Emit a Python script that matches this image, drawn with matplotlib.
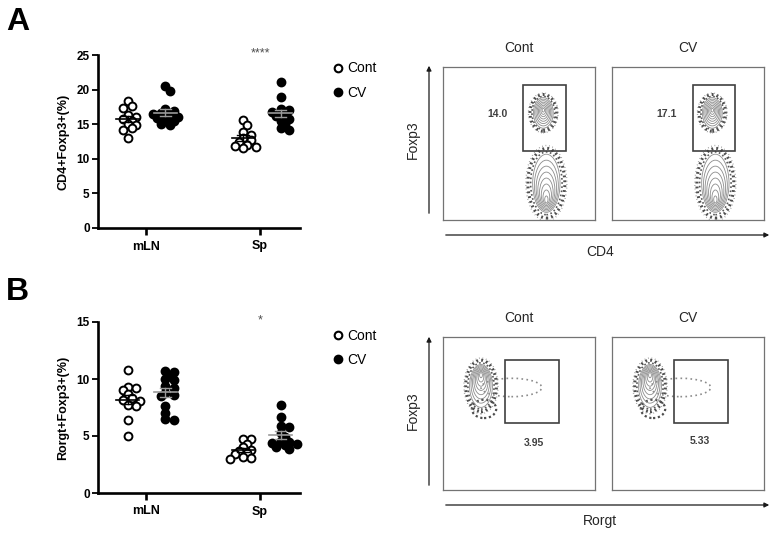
import numpy as np
import matplotlib.pyplot as plt
from matplotlib.patches import Ellipse, Rectangle
from matplotlib.lines import Line2D

plt.rcParams['font.family'] = ['Liberation Sans', 'DejaVu Sans']

# panel A : CD4+Foxp3+ (%)
a_mln_cont = [18.3, 17.6, 17.4, 16.3, 16.0, 15.8, 15.5, 15.0, 14.9, 14.4, 14.2, 13.0]
a_mln_cv = [20.5, 19.8, 17.2, 16.9, 16.6, 16.5, 16.3, 16.1, 15.9, 15.6, 15.4, 15.1, 14.9]
a_sp_cont = [15.6, 14.9, 13.9, 13.5, 13.0, 12.7, 12.4, 12.0, 11.9, 11.7, 11.5]
a_sp_cv = [21.1, 18.9, 17.2, 17.0, 16.8, 16.5, 16.2, 15.8, 15.5, 15.0, 14.5, 14.2]

# panel B : Rorgt+Foxp3+ (%)
b_mln_cont = [10.8, 9.3, 9.2, 9.0, 8.7, 8.3, 8.2, 8.1, 7.7, 7.6, 6.4, 5.0]
b_mln_cv = [10.7, 10.6, 10.3, 10.0, 9.9, 9.4, 9.2, 8.8, 8.6, 8.5, 7.6, 7.0, 6.5, 6.4]
b_sp_cont = [4.7, 4.7, 4.3, 4.0, 3.8, 3.7, 3.5, 3.4, 3.2, 3.1, 3.0]
b_sp_cv = [7.7, 6.7, 5.9, 5.8, 5.3, 4.9, 4.6, 4.5, 4.4, 4.3, 4.2, 4.0, 3.9]

tissues = ['mLN', 'Sp']
conditions = ['Cont', 'CV']
a_gate_pct = ['14.0', '17.1']
b_gate_pct = ['3.95', '5.33']

W, H = 781, 534
fig = plt.figure(figsize=(W / 100, H / 100), dpi=100)


def px_axes(x0, y0, x1, y1):
    # pixel box measured from top-left of the figure
    return fig.add_axes([x0 / W, (H - y1) / H, (x1 - x0) / W, (y1 - y0) / H])


def swarm(vals, xpx, ypx, d=7.0):
    # simple beeswarm: horizontal offsets, circles may overlap a bit
    vals = np.asarray(vals)
    order = np.argsort(vals)[::-1]
    placed = []
    offs = np.zeros(len(vals))
    steps = [0, 0.6, -0.6, 1.2, -1.2, 1.8, -1.8, 2.4, -2.4]
    for i in order:
        y = vals[i] * ypx
        for k in steps:
            x = k * d
            if all((x - px) ** 2 + (y - py) ** 2 >= (0.72 * d) ** 2 for px, py in placed):
                break
        placed.append((x, y))
        offs[i] = x / xpx
    return offs


def dot_panel(top, bottom, ymax, yticks, ylabel, groups, star):
    ax = px_axes(98, top, 300, bottom)
    ax.set_xlim(0.58, 2.35)
    ax.set_ylim(0, ymax)
    xpx = 202 / (2.35 - 0.58)
    ypx = (bottom - top) / ymax
    for xc, vals, filled in groups:
        xs = xc + swarm(vals, xpx, ypx)
        ax.scatter(xs, vals, s=32, facecolor='black' if filled else 'white',
                   edgecolor='black', linewidth=1.4, zorder=3, clip_on=False)
        m = np.mean(vals)
        se = np.std(vals, ddof=1) / np.sqrt(len(vals))
        lc = '0.6' if filled else 'black'
        ax.plot([xc - 0.1, xc + 0.1], [m, m], color=lc, lw=1.2, zorder=4)
        ax.plot([xc, xc], [m - se, m + se], color=lc, lw=1.0, zorder=4)
        for e in (m - se, m + se):
            ax.plot([xc - 0.05, xc + 0.05], [e, e], color=lc, lw=1.0, zorder=4)
    for s in ['top', 'right']:
        ax.spines[s].set_visible(False)
    for s in ['left', 'bottom']:
        ax.spines[s].set_linewidth(1.9)
    ax.set_yticks(yticks)
    ax.set_xticks([1, 2])
    ax.set_xticklabels(tissues)
    ax.tick_params(axis='y', width=1.3, length=4, labelsize=8.5, pad=2)
    ax.tick_params(axis='x', width=1.9, length=5, labelsize=9, pad=4)
    for t in ax.get_xticklabels() + ax.get_yticklabels():
        t.set_fontweight('bold')
    ax.set_ylabel(ylabel, fontsize=9, fontweight='bold', labelpad=5)
    ax.text(2.0, ymax * 1.01, star, ha='center', va='center', fontsize=9, color='0.3', clip_on=False)
    handles = [Line2D([], [], marker='o', ls='', mfc='white', mec='black', ms=5.5, mew=1.5, label=conditions[0]),
               Line2D([], [], marker='o', ls='', mfc='black', mec='black', ms=5.5, mew=1.5, label=conditions[1])]
    ax.legend(handles=handles, loc='upper left', bbox_to_anchor=(317 / W, (H - top + 6) / H),
              bbox_transform=fig.transFigure, frameon=False, fontsize=10,
              handletextpad=0.1, labelspacing=0.75, handlelength=1.2)
    return ax


def population(ax, cx, cy, w, h, shift, n=8):
    ax.add_patch(Ellipse((cx, cy), w * 1.35, h * 1.2, fill=False, ec='0.3', lw=2.2, ls=(0, (0.6, 1.0))))
    ax.add_patch(Ellipse((cx, cy), w * 1.5, h * 1.3, fill=False, ec='0.55', lw=1.0, ls=(0, (0.5, 2.0))))
    ax.add_patch(Ellipse((cx, cy), w * 1.15, h * 1.08, fill=False, ec='0.35', lw=1.2, ls=(0, (1, 1.5))))
    for s in np.linspace(1.0, 0.12, n):
        ax.add_patch(Ellipse((cx, cy + (1 - s) * shift), w * s, h * s, fill=False, ec='0.55', lw=0.6))


def flow_panel(x0, y0, title, gate, pct, pct_xy, kind):
    ax = px_axes(x0, y0, x0 + 152, y0 + 153)
    ax.set_xlim(0, 1)
    ax.set_ylim(0, 1)
    ax.set_xticks([])
    ax.set_yticks([])
    for s in ax.spines.values():
        s.set_color('0.45')
        s.set_linewidth(0.9)
    fig.text((x0 + 76) / W, (H - y0 + 19) / H, title, ha='center', va='center', fontsize=10, color='0.15')
    if kind == 'A':
        population(ax, 0.66, 0.70, 0.13, 0.20, 0.02)
        population(ax, 0.68, 0.24, 0.18, 0.38, -0.12)
    else:
        ax.add_patch(Ellipse((0.45, 0.67), 0.40, 0.12, fill=False, ec='0.55', lw=1.2, ls=(0, (1, 2))))
        ax.add_patch(Ellipse((0.27, 0.53), 0.16, 0.12, fill=False, ec='0.3', lw=1.6, ls=(0, (1, 1.2))))
        population(ax, 0.25, 0.68, 0.15, 0.28, 0.08)
    gx0, gx1, gy0, gy1 = gate
    ax.add_patch(Rectangle((gx0, gy0), gx1 - gx0, gy1 - gy0, fill=False, ec='0.25', lw=1.2))
    ax.text(pct_xy[0], pct_xy[1], pct, ha='center', va='center', fontsize=7.5, fontweight='bold', color='0.25')
    return ax


dot_panel(55, 228, 25, [0, 5, 10, 15, 20, 25], 'CD4+Foxp3+(%)',
          [(0.84, a_mln_cont, False), (1.17, a_mln_cv, True),
           (1.85, a_sp_cont, False), (2.18, a_sp_cv, True)], '****')
dot_panel(322, 493, 15, [0, 5, 10, 15], 'Rorgt+Foxp3+(%)',
          [(0.84, b_mln_cont, False), (1.17, b_mln_cv, True),
           (1.85, b_sp_cont, False), (2.18, b_sp_cv, True)], '*')

flow_panel(443, 67, conditions[0], (0.526, 0.81, 0.45, 0.88), a_gate_pct[0], (0.36, 0.69), 'A')
flow_panel(612, 67, conditions[1], (0.53, 0.81, 0.45, 0.88), a_gate_pct[1], (0.36, 0.69), 'A')
flow_panel(443, 337, conditions[0], (0.41, 0.76, 0.44, 0.85), b_gate_pct[0], (0.60, 0.31), 'B')
flow_panel(612, 337, conditions[1], (0.41, 0.76, 0.44, 0.85), b_gate_pct[1], (0.58, 0.32), 'B')

# axis arrows of the flow plots
for top_y, bottom_y, arr_y, lab_y, lab in [(63, 216, 235, 252, 'CD4'), (334, 488, 505, 521, 'Rorgt')]:
    plt.annotate('', xy=(429, H - top_y), xytext=(429, H - bottom_y),
                 xycoords='figure pixels', textcoords='figure pixels',
                 arrowprops=dict(arrowstyle='-|>', color='0.1', lw=0.9, mutation_scale=7))
    plt.annotate('', xy=(772, H - arr_y), xytext=(443, H - arr_y),
                 xycoords='figure pixels', textcoords='figure pixels',
                 arrowprops=dict(arrowstyle='-|>', color='0.1', lw=0.9, mutation_scale=7))
    fig.text(413 / W, (H - (top_y + bottom_y) / 2) / H, 'Foxp3', rotation=90, ha='center', va='center',
             fontsize=10, color='0.15')
    fig.text(600 / W, (H - lab_y) / H, lab, ha='center', va='center', fontsize=10, color='0.15')

fig.text(6 / W, (H - 22) / H, 'A', fontsize=23, fontweight='bold', va='center')
fig.text(6 / W, (H - 292) / H, 'B', fontsize=23, fontweight='bold', va='center')

fig.savefig('out.png', dpi=100)
